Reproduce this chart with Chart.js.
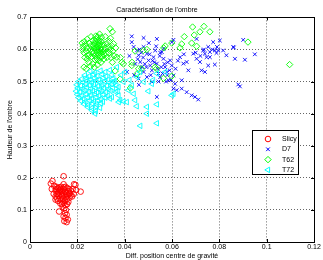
<!DOCTYPE html>
<html>
<head>
<meta charset="utf-8">
<script src="https://cdn.jsdelivr.net/npm/chart.js"></script>
<style>
  body { margin: 0; background: #fff; }
</style>
</head>
<body>
<canvas id="ombreChart" width="323" height="260"></canvas>
<script>
// values: [diff. position centre de gravité, hauteur de l'ombre]
const seriesNames = ['Slicy', 'D7', 'T62', 'T72'];

const slicyPoints = [
  [0.0088,0.182],[0.0095,0.190],[0.0102,0.175],[0.0092,0.165],[0.0108,0.160],[0.0112,0.172],[0.0118,0.168],
  [0.0125,0.170],[0.0132,0.172],[0.0142,0.205],[0.0142,0.180],[0.0150,0.172],[0.0158,0.168],[0.0165,0.165],
  [0.0172,0.160],[0.0180,0.165],[0.0186,0.180],[0.0192,0.178],[0.0195,0.162],[0.0214,0.157],[0.0185,0.150],
  [0.0178,0.142],[0.0170,0.152],[0.0162,0.158],[0.0155,0.150],[0.0148,0.160],[0.0140,0.165],[0.0133,0.158],
  [0.0126,0.162],[0.0120,0.155],[0.0113,0.150],[0.0108,0.142],[0.0115,0.135],[0.0122,0.145],[0.0130,0.150],
  [0.0137,0.142],[0.0145,0.148],[0.0152,0.140],[0.0160,0.145],[0.0167,0.138],[0.0108,0.132],[0.0118,0.128],
  [0.0125,0.135],[0.0132,0.130],[0.0140,0.135],[0.0147,0.128],[0.0155,0.132],[0.0162,0.125],[0.0128,0.120],
  [0.0135,0.118],[0.0143,0.122],[0.0150,0.115],[0.0157,0.118],[0.0138,0.110],[0.0145,0.105],[0.0152,0.100],
  [0.0123,0.095],[0.0148,0.090],[0.0155,0.085],[0.0142,0.080],[0.0150,0.075],[0.0145,0.065],[0.0155,0.062],
  [0.0160,0.070],[0.0136,0.155],[0.0128,0.165],[0.0144,0.170],[0.0118,0.150],[0.0110,0.165],[0.0165,0.150],
  [0.0172,0.145],[0.0100,0.150],[0.0122,0.160],[0.0150,0.155],[0.0135,0.145]
];

const d7Points = [
  [0.0430,0.623],[0.0438,0.608],[0.0452,0.597],[0.0459,0.582],[0.0466,0.561],[0.0473,0.545],[0.0480,0.530],
  [0.0494,0.587],[0.0501,0.566],[0.0508,0.550],[0.0515,0.535],[0.0522,0.576],[0.0529,0.597],[0.0536,0.556],
  [0.0543,0.525],[0.0550,0.514],[0.0557,0.592],[0.0564,0.571],[0.0571,0.545],[0.0578,0.530],[0.0585,0.504],
  [0.0592,0.566],[0.0599,0.550],[0.0606,0.519],[0.0613,0.493],[0.0606,0.478],[0.0620,0.473],[0.0641,0.478],
  [0.0662,0.467],[0.0683,0.457],[0.0697,0.452],[0.0711,0.444],[0.0536,0.452],[0.0564,0.602],[0.0599,0.623],
  [0.0606,0.630],[0.0480,0.608],[0.0641,0.504],[0.0662,0.561],[0.0690,0.587],[0.0704,0.571],[0.0718,0.561],
  [0.0732,0.597],[0.0739,0.587],[0.0746,0.576],[0.0753,0.608],[0.0760,0.592],[0.0774,0.623],[0.0781,0.597],
  [0.0788,0.589],[0.0802,0.628],[0.0816,0.597],[0.0830,0.582],[0.0859,0.608],[0.0866,0.571],[0.0887,0.485],
  [0.0880,0.491],[0.0901,0.630],[0.0950,0.585],[0.0908,0.568],[0.0725,0.535],[0.0753,0.550],[0.0795,0.597],
  [0.0704,0.633],[0.0648,0.556],[0.0634,0.576],[0.0669,0.535],[0.0480,0.636],[0.0536,0.633],[0.0430,0.641],
  [0.0494,0.514],[0.0459,0.509],[0.0515,0.499],[0.0455,0.570],[0.0470,0.590],[0.0485,0.555],[0.0505,0.585],
  [0.0510,0.520],[0.0525,0.560],[0.0540,0.540],[0.0548,0.580],[0.0555,0.545],[0.0560,0.525],[0.0568,0.555],
  [0.0575,0.500],[0.0582,0.560],[0.0590,0.535],[0.0596,0.505],[0.0445,0.555],[0.0463,0.600],[0.0478,0.575],
  [0.0492,0.545],[0.0518,0.565],[0.0533,0.610],[0.0543,0.500],[0.0550,0.590],[0.0502,0.620],[0.0420,0.580],
  [0.0410,0.530],[0.0440,0.520],[0.0460,0.490],[0.0580,0.520],[0.0615,0.540],[0.0625,0.565],[0.0650,0.585],
  [0.0700,0.590],[0.0720,0.580],[0.0770,0.600],[0.0790,0.608],[0.0735,0.600],[0.0760,0.576],[0.0739,0.530],
  [0.0781,0.553],[0.0861,0.606]
];

const t62Points = [
  [0.0250,0.620],[0.0258,0.612],[0.0265,0.628],[0.0272,0.618],[0.0280,0.632],[0.0288,0.622],[0.0295,0.612],
  [0.0302,0.625],[0.0310,0.615],[0.0318,0.605],[0.0325,0.618],[0.0332,0.608],[0.0255,0.600],[0.0262,0.592],
  [0.0270,0.605],[0.0278,0.598],[0.0285,0.608],[0.0292,0.595],[0.0300,0.602],[0.0308,0.592],[0.0315,0.598],
  [0.0322,0.588],[0.0252,0.585],[0.0260,0.578],[0.0268,0.588],[0.0275,0.580],[0.0283,0.590],[0.0290,0.582],
  [0.0298,0.588],[0.0305,0.578],[0.0312,0.585],[0.0282,0.572],[0.0290,0.565],[0.0275,0.568],[0.0296,0.575],
  [0.0286,0.640],[0.0294,0.648],[0.0278,0.642],[0.0302,0.638],[0.0270,0.612],[0.0288,0.600],[0.0296,0.618],
  [0.0280,0.605],[0.0284,0.615],[0.0276,0.625],[0.0292,0.628],[0.0300,0.598],[0.0220,0.620],[0.0225,0.610],
  [0.0230,0.625],[0.0222,0.600],[0.0235,0.615],[0.0240,0.605],[0.0228,0.590],[0.0238,0.595],[0.0245,0.580],
  [0.0232,0.575],[0.0242,0.570],[0.0248,0.560],[0.0228,0.545],[0.0238,0.540],[0.0255,0.548],[0.0265,0.555],
  [0.0272,0.545],[0.0285,0.552],[0.0300,0.560],[0.0312,0.570],[0.0325,0.575],[0.0335,0.590],[0.0340,0.600],
  [0.0345,0.612],[0.0350,0.595],[0.0342,0.575],[0.0355,0.580],[0.0348,0.560],[0.0362,0.605],[0.0335,0.625],
  [0.0340,0.635],[0.0318,0.640],[0.0242,0.632],[0.0258,0.640],[0.0338,0.665],[0.0348,0.655],[0.0382,0.575],
  [0.0388,0.560],[0.0360,0.533],[0.0353,0.618],[0.0367,0.576],[0.0395,0.555],[0.0431,0.560],[0.0444,0.595],
  [0.0459,0.540],[0.0494,0.600],[0.0528,0.545],[0.0452,0.524],[0.0424,0.480],[0.0381,0.508],[0.0564,0.510],
  [0.0565,0.605],[0.0571,0.611],[0.0599,0.620],[0.0599,0.517],[0.0634,0.605],[0.0641,0.617],[0.0652,0.640],
  [0.0683,0.620],[0.0704,0.610],[0.0694,0.645],[0.0687,0.670],[0.0735,0.672],[0.0718,0.655],[0.0760,0.655],
  [0.0921,0.623],[0.1097,0.553],[0.0472,0.540],[0.0535,0.540],[0.0430,0.550],[0.0479,0.597]
];

const t72Points = [
  [0.0255,0.532],[0.0275,0.528],[0.0298,0.534],[0.0318,0.530],[0.0338,0.536],
  [0.0232,0.520],[0.0250,0.517],[0.0268,0.522],[0.0285,0.518],[0.0305,0.523],[0.0322,0.516],[0.0345,0.521],
  [0.0218,0.508],[0.0238,0.512],[0.0256,0.507],[0.0272,0.511],[0.0292,0.506],[0.0310,0.512],[0.0330,0.507],[0.0352,0.510],
  [0.0205,0.500],[0.0225,0.497],[0.0242,0.502],[0.0262,0.498],[0.0280,0.503],[0.0298,0.497],[0.0316,0.501],[0.0335,0.496],[0.0358,0.502],
  [0.0198,0.490],[0.0215,0.487],[0.0235,0.492],[0.0252,0.488],[0.0270,0.491],[0.0288,0.486],[0.0305,0.490],[0.0325,0.487],[0.0345,0.492],[0.0365,0.488],
  [0.0202,0.480],[0.0222,0.477],[0.0240,0.482],[0.0258,0.478],[0.0276,0.481],[0.0294,0.476],[0.0312,0.480],[0.0332,0.477],[0.0350,0.481],
  [0.0195,0.470],[0.0212,0.467],[0.0230,0.472],[0.0248,0.468],[0.0266,0.471],[0.0284,0.466],[0.0302,0.470],[0.0320,0.467],[0.0340,0.471],[0.0362,0.468],
  [0.0200,0.460],[0.0218,0.457],[0.0238,0.461],[0.0256,0.458],[0.0274,0.462],[0.0292,0.457],[0.0310,0.460],[0.0328,0.456],
  [0.0205,0.450],[0.0225,0.447],[0.0244,0.451],[0.0262,0.448],[0.0280,0.452],[0.0298,0.446],[0.0318,0.450],[0.0338,0.447],
  [0.0215,0.440],[0.0234,0.437],[0.0252,0.441],[0.0270,0.438],[0.0288,0.442],[0.0308,0.437],
  [0.0228,0.430],[0.0246,0.427],[0.0264,0.431],[0.0282,0.428],[0.0300,0.432],
  [0.0245,0.420],[0.0262,0.417],[0.0280,0.421],[0.0296,0.418],
  [0.0262,0.410],[0.0278,0.408],[0.0275,0.400],
  [0.0466,0.362],[0.0536,0.370],[0.0494,0.421],[0.0536,0.429],[0.0494,0.400],[0.0451,0.423],[0.0444,0.442],
  [0.0409,0.436],[0.0395,0.438],[0.0536,0.525],[0.0571,0.530],[0.0599,0.457],[0.0606,0.462],[0.0480,0.499],
  [0.0515,0.493],[0.0452,0.514],[0.0402,0.530],[0.0367,0.545],[0.0353,0.499],[0.0374,0.483],[0.0395,0.499],
  [0.0416,0.473],[0.0430,0.488],[0.0374,0.457],[0.0346,0.452],[0.0381,0.442],[0.0438,0.462],[0.0385,0.520],
  [0.0420,0.505],[0.0370,0.470],[0.0465,0.530],[0.0500,0.470],[0.0520,0.505],[0.0375,0.436]
];

const xTicks = [0, 0.02, 0.04, 0.06, 0.08, 0.1, 0.12];
const yTicks = [0, 0.1, 0.2, 0.3, 0.4, 0.5, 0.6, 0.7];

const FONT = "'Liberation Sans', Arial, sans-serif";

function toXY(list) {
  return list.map(p => ({ x: p[0], y: p[1] }));
}
function fmt(v) {
  return String(Math.round(v * 100) / 100);
}

// black box round the axes with matlab style inward ticks
const axesBox = {
  id: 'axesBox',
  afterDraw(chart) {
    const { ctx, chartArea: a, scales } = chart;
    ctx.save();
    ctx.strokeStyle = '#000';
    ctx.lineWidth = 1;
    ctx.strokeRect(Math.round(a.left) + 0.5, Math.round(a.top) + 0.5,
      Math.round(a.right - a.left), Math.round(a.bottom - a.top));
    ctx.beginPath();
    xTicks.forEach(v => {
      const px = Math.round(scales.x.getPixelForValue(v)) + 0.5;
      ctx.moveTo(px, a.bottom); ctx.lineTo(px, a.bottom - 3);
      ctx.moveTo(px, a.top); ctx.lineTo(px, a.top + 3);
    });
    yTicks.forEach(v => {
      const py = Math.round(scales.y.getPixelForValue(v)) + 0.5;
      ctx.moveTo(a.left, py); ctx.lineTo(a.left + 3, py);
      ctx.moveTo(a.right, py); ctx.lineTo(a.right - 3, py);
    });
    ctx.stroke();
    ctx.restore();
  }
};

// legend drawn inside the plot, lower right like the original figure
const legendBox = {
  id: 'legendBox',
  afterDraw(chart) {
    const ctx = chart.ctx;
    const bx = 252, by = 130, bw = 46, bh = 44;
    ctx.save();
    ctx.fillStyle = '#fff';
    ctx.fillRect(bx, by, bw, bh);
    ctx.strokeStyle = '#000';
    ctx.lineWidth = 1;
    ctx.strokeRect(bx + 0.5, by + 0.5, bw, bh);
    ctx.font = '7px ' + FONT;
    ctx.textBaseline = 'middle';
    chart.data.datasets.forEach((ds, i) => {
      const y = by + 9 + i * 10.3;
      ctx.strokeStyle = ds.borderColor;
      ctx.fillStyle = 'rgba(0,0,0,0)';
      ctx.lineWidth = 1;
      Chart.helpers.drawPoint(ctx, {
        pointStyle: ds.pointStyle,
        rotation: ds.rotation || 0,
        radius: ds.pointRadius,
        borderWidth: 1
      }, bx + 16, y);
      ctx.fillStyle = '#000';
      ctx.fillText(ds.label, bx + 30, y);
    });
    ctx.restore();
  }
};

const ctx = document.getElementById('ombreChart').getContext('2d');
const ombreChart = new Chart(ctx, {
  type: 'scatter',
  data: {
    datasets: [{
      label: seriesNames[0],
      data: toXY(slicyPoints),
      pointStyle: 'circle',
      pointRadius: 2.8,
      borderColor: '#ff0000',
      backgroundColor: 'rgba(0,0,0,0)',
      borderWidth: 0.9,
      order: 3
    }, {
      label: seriesNames[1],
      data: toXY(d7Points),
      pointStyle: 'crossRot',
      pointRadius: 2.6,
      borderColor: '#0000ff',
      backgroundColor: 'rgba(0,0,0,0)',
      borderWidth: 0.9,
      order: 2
    }, {
      label: seriesNames[2],
      data: toXY(t62Points),
      pointStyle: 'rectRot',
      pointRadius: 3.2,
      borderColor: '#00ff00',
      backgroundColor: 'rgba(0,0,0,0)',
      borderWidth: 0.9,
      order: 1
    }, {
      label: seriesNames[3],
      data: toXY(t72Points),
      pointStyle: 'triangle',
      rotation: -90,
      pointRotation: -90,
      pointRadius: 3.2,
      borderColor: '#00ffff',
      backgroundColor: 'rgba(0,0,0,0)',
      borderWidth: 0.9,
      order: 0
    }]
  },
  options: {
    responsive: false,
    animation: false,
    layout: { padding: { left: 0, right: 9, top: 0, bottom: 0 } },
    plugins: {
      legend: { display: false },
      tooltip: { enabled: false },
      title: {
        display: true,
        text: "Caractérisation de l'ombre",
        color: '#000',
        font: { family: FONT, size: 7, weight: 'normal' },
        padding: { top: 6, bottom: 3 }
      }
    },
    scales: {
      x: {
        type: 'linear',
        min: 0,
        max: 0.12,
        afterBuildTicks: s => { s.ticks = xTicks.map(v => ({ value: v })); },
        afterFit: s => { s.height = 18; },
        ticks: {
          color: '#000',
          font: { family: FONT, size: 7 },
          padding: 1,
          maxRotation: 0,
          callback: v => fmt(v)
        },
        grid: { color: 'rgba(0,0,0,0.6)', drawTicks: false },
        border: { display: false, dash: [1, 2] },
        title: {
          display: true,
          text: 'Diff. position centre de gravité',
          color: '#000',
          font: { family: FONT, size: 7 },
          padding: { top: 0, bottom: 0 }
        }
      },
      y: {
        type: 'linear',
        min: 0,
        max: 0.7,
        afterBuildTicks: s => { s.ticks = yTicks.map(v => ({ value: v })); },
        afterFit: s => { s.width = 30; },
        ticks: {
          color: '#000',
          font: { family: FONT, size: 7 },
          padding: 3,
          callback: v => fmt(v)
        },
        grid: { color: 'rgba(0,0,0,0.6)', drawTicks: false },
        border: { display: false, dash: [1, 2] },
        title: {
          display: true,
          text: "Hauteur de l'ombre",
          color: '#000',
          font: { family: FONT, size: 7 },
          padding: { top: 6, bottom: 0 }
        }
      }
    }
  },
  plugins: [axesBox, legendBox]
});
</script>
</body>
</html>
